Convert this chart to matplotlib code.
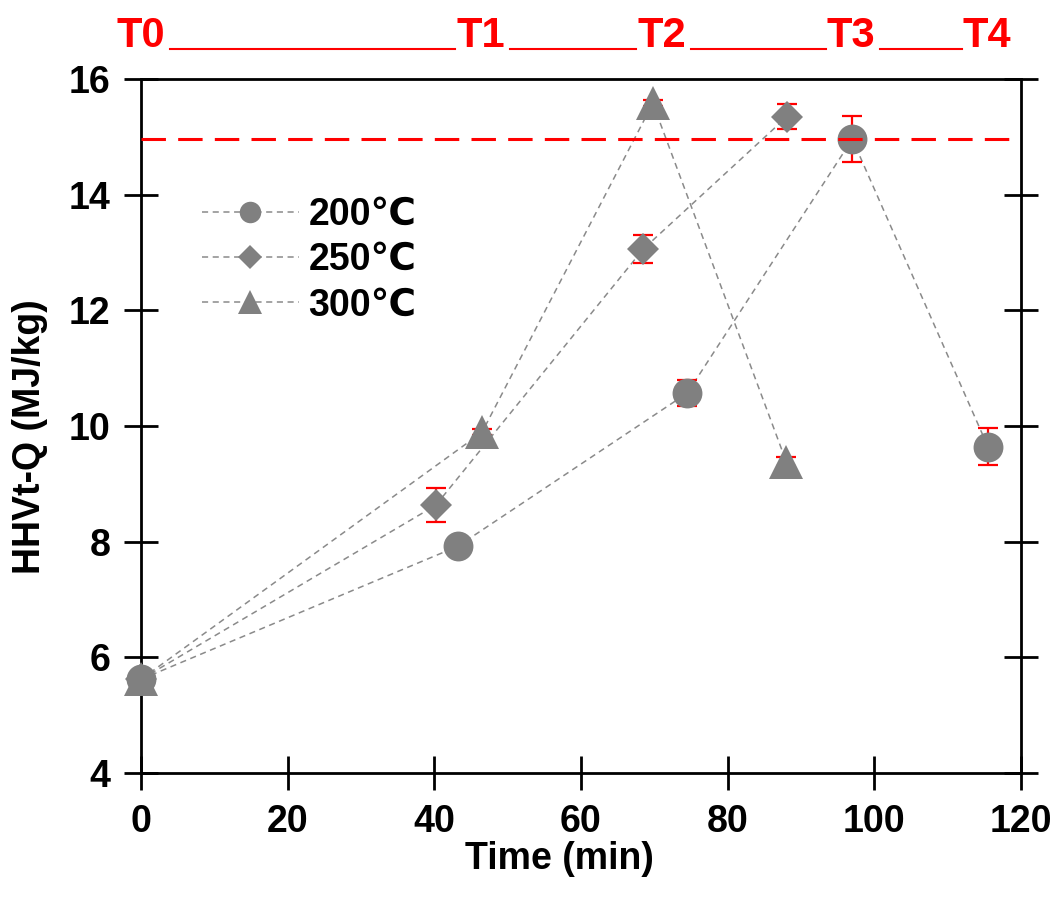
import numpy as np
import matplotlib
matplotlib.use("Agg")
import matplotlib.pyplot as plt
from matplotlib.lines import Line2D

plt.rcParams['font.family'] = ['Liberation Sans', 'DejaVu Sans']
plt.rcParams['font.weight'] = 'bold'

# data
time_200 = [0, 43.2, 74.5, 97.0, 115.5]
hhv_200 = [5.62, 7.92, 10.57, 14.96, 9.64]
err_200 = [0.1, 0.15, 0.23, 0.40, 0.32]

time_250 = [0, 40.2, 68.5, 88.1]
hhv_250 = [5.62, 8.63, 13.06, 15.35]
err_250 = [0.1, 0.29, 0.24, 0.22]

time_300 = [0, 46.5, 69.8, 88.0]
hhv_300 = [5.62, 9.89, 15.58, 9.38]
err_300 = [0.05, 0.05, 0.05, 0.08]

series_labels = ['200\u2103', '250\u2103', '300\u2103']
ref_line = 14.96

stage_labels = ['T0', 'T1', 'T2', 'T3', 'T4']
stage_times = [0, 46.3, 71.0, 96.8, 115.4]

x_ticks = [0, 20, 40, 60, 80, 100, 120]
y_ticks = [4, 6, 8, 10, 12, 14, 16]

fig = plt.figure(figsize=(10.6, 9.09), dpi=100)
ax = fig.add_axes([0.133, 0.1496, 0.8302, 0.7635])

gray = '#808080'
line_kw = dict(color='#8a8a8a', lw=1.1, linestyle=(0, (4, 3)), zorder=2)

series = [
    (time_200, hhv_200, err_200, 'o', 21.5),
    (time_250, hhv_250, err_250, 'D', 16.5),
    (time_300, hhv_300, err_300, '^', 24.5),
]

handles = []
for (t, h, e, m, ms), lab in zip(series, series_labels):
    ax.errorbar(t, h, yerr=e, fmt='none', ecolor='red', elinewidth=1.6,
                capsize=7, capthick=1.6, zorder=2.5, clip_on=False)
    ax.plot(t, h, **line_kw, clip_on=False)
    ax.plot(t, h, linestyle='none', marker=m, ms=ms, color=gray,
            markeredgewidth=0, zorder=3, clip_on=False)
    handles.append(Line2D([], [], color='#8a8a8a', lw=1.1, linestyle=(0, (4, 3)),
                          marker=m, ms=ms * 0.72, markerfacecolor=gray,
                          markeredgewidth=0, label=lab))

ax.axhline(ref_line, color='red', lw=2.2, linestyle=(0, (8, 4)), zorder=4)

ax.set_xlim(0, 120)
ax.set_ylim(4, 16)
ax.set_xticks(x_ticks)
ax.set_yticks(y_ticks)
ax.tick_params(direction='inout', length=24, width=2, labelsize=27, pad=10)
ax.tick_params(axis='y', right=True, labelright=False)
ax.tick_params(axis='x', top=False)
for sp in ax.spines.values():
    sp.set_linewidth(2)

ax.set_xlabel('Time (min)', fontsize=27, fontweight='bold')
ax.set_ylabel('HHVt-Q (MJ/kg)', fontsize=27, fontweight='bold')
ax.xaxis.set_label_coords(0.475, -0.098)
ax.yaxis.set_label_coords(-0.106, 0.485)

ax.legend(handles=handles, loc='upper left', bbox_to_anchor=(0.052, 0.852),
          frameon=False, fontsize=27, handlelength=2.6, handletextpad=0.25,
          labelspacing=0.25, borderaxespad=0)

# stage labels above the plot, joined by red rules
texts = []
for lab, t in zip(stage_labels, stage_times):
    x_fig = fig.transFigure.inverted().transform(ax.transData.transform((t, 0)))[0]
    txt = fig.text(x_fig, 1 - 47 / 909, lab, color='red', fontsize=30,
                   fontweight='bold', ha='center', va='baseline')
    texts.append(txt)

fig.canvas.draw()
r = fig.canvas.get_renderer()
inv = fig.transFigure.inverted()
y_rule = 1 - 48.5 / 909
for a, b in zip(texts[:-1], texts[1:]):
    ea = a.get_window_extent(r)
    eb = b.get_window_extent(r)
    x0 = inv.transform((ea.x1 + 5, 0))[0]
    x1 = inv.transform((eb.x0 - 1, 0))[0]
    fig.add_artist(Line2D([x0, x1], [y_rule, y_rule], color='red', lw=1.5,
                          transform=fig.transFigure))

fig.savefig('out.png', dpi=100)
